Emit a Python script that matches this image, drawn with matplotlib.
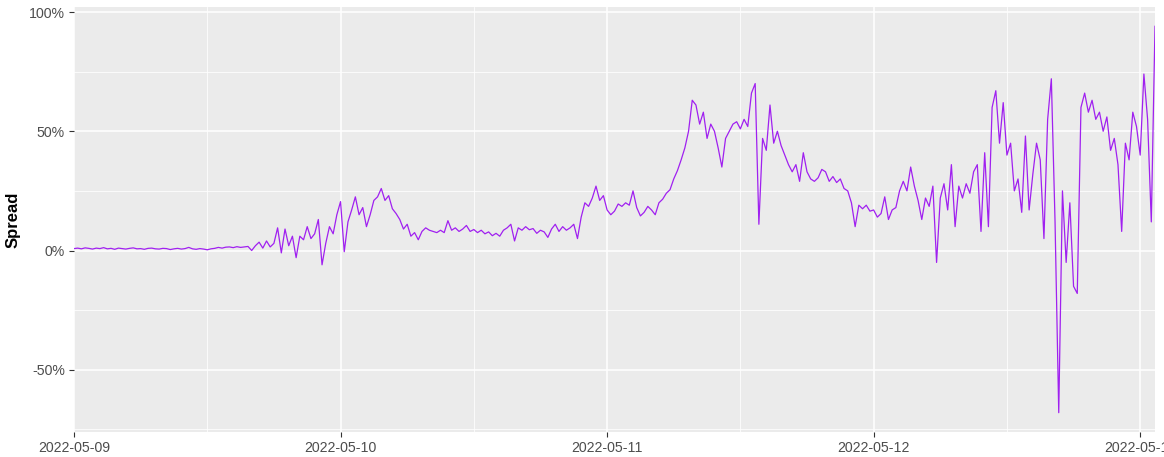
import numpy as np
import pandas as pd
import matplotlib
matplotlib.use('Agg')
import matplotlib.pyplot as plt
import matplotlib.dates as mdates
from matplotlib.ticker import FixedLocator, FuncFormatter

# spread (in %) sampled every 20 minutes from 2022-05-09 00:00
day1 = [0.8, 1.0, 0.7, 1.1, 0.9, 0.6, 1.0, 0.8, 1.2, 0.7, 0.9, 0.5, 1.0, 0.8, 0.6, 0.9,
        1.1, 0.7, 0.8, 0.5, 0.9, 1.0, 0.7, 0.6, 0.9, 0.8, 0.4, 0.7, 0.9, 0.6, 0.8, 1.3,
        0.7, 0.5, 0.8, 0.6, 0.3, 0.7, 0.9, 1.3, 1.0, 1.4, 1.5, 1.2, 1.6, 1.3, 1.5, 1.7,
        0.0, 2.0, 3.5, 1.0, 4.0, 1.5, 3.0, 9.5, -1.0, 9.0, 2.0, 6.0, -3.0, 6.0, 4.5, 10.0,
        5.0, 7.0, 13.0, -6.0, 3.0, 10.0, 7.0, 15.0]
day2 = [20.5, -0.5, 12.0, 17.0, 22.5, 15.0, 18.0, 10.0, 15.0, 21.0, 22.5, 26.0, 21.0, 23.0,
        17.5, 15.5, 13.0, 9.0, 11.0, 6.0, 7.5, 4.5, 8.0, 9.5, 8.5, 8.0, 7.5, 8.5, 7.5, 12.5,
        8.5, 9.5, 8.0, 9.0, 10.5, 8.0, 8.8, 7.5, 8.5, 7.0, 7.8, 6.2, 7.2, 6.0, 8.5, 9.5,
        11.0, 4.0, 9.5, 8.5, 10.0, 8.7, 9.2, 7.2, 8.5, 7.8, 5.5, 9.0, 11.0, 8.0, 10.0, 8.5,
        9.5, 11.0, 5.0, 14.0, 20.0, 18.5, 22.0, 27.0, 21.0, 23.0]
day3 = [17.0, 15.0, 16.5, 19.5, 18.5, 20.0, 19.0, 25.0, 18.0, 14.5, 16.0, 18.5, 17.0, 15.0,
        20.0, 21.5, 24.0, 25.5, 30.0, 33.5, 38.0, 43.0, 50.0, 63.0, 61.0, 53.0, 58.0, 47.0,
        53.0, 50.0, 43.0, 35.0, 47.0, 50.0, 53.0, 54.0, 51.0, 55.0, 52.0, 66.0, 70.0, 11.0,
        47.0, 42.0, 61.0, 45.0, 50.0, 44.0, 40.0, 36.0, 33.0, 36.0, 29.0, 41.0, 33.0, 30.0,
        29.0, 30.5, 34.0, 33.0, 29.0, 31.0, 28.5, 30.0, 26.0, 25.0, 20.0, 10.0, 19.0, 17.5,
        19.0, 16.5]
day4 = [17.0, 14.0, 15.5, 22.5, 13.0, 17.0, 18.0, 25.0, 29.0, 25.0, 35.0, 27.0, 21.0, 13.0,
        22.0, 18.5, 27.0, -5.0, 22.0, 28.0, 17.0, 36.0, 10.0, 27.0, 22.0, 28.0, 24.0, 33.0,
        36.0, 8.0, 41.0, 10.0, 60.0, 67.0, 45.0, 62.0, 40.0, 45.0, 25.0, 30.0, 16.0, 48.0,
        17.0, 32.0, 45.0, 38.0, 5.0, 55.0, 72.0, 12.0, -68.0, 25.0, -5.0, 20.0, -15.0, -18.0,
        60.0, 66.0, 58.0, 63.0, 55.0, 58.0, 50.0, 56.0, 42.0, 47.0, 36.0, 8.0, 45.0, 38.0,
        58.0, 52.0]
day5 = [40.0, 74.0, 55.0, 12.0, 94.0]

spread = np.array(day1 + day2 + day3 + day4 + day5) / 100
times = pd.date_range('2022-05-09 00:00', periods=len(spread), freq='20min')

fig = plt.figure(figsize=(11.64, 4.57), dpi=100)
ax = fig.add_axes([74 / 1164, 25 / 457, (1155 - 74) / 1164, (432 - 7) / 457])
ax.set_facecolor('#EBEBEB')

ax.plot(times, spread, color='#A020F0', lw=0.9, zorder=3)

# ggplot-like scales: no x expansion, 5% y expansion
ax.set_xlim(times[0], times[-1])
lo, hi = spread.min(), spread.max()
pad = (hi - lo) * 0.05
ax.set_ylim(lo - pad, hi + pad)

days = pd.date_range('2022-05-09', '2022-05-13', freq='D')
halfdays = pd.date_range('2022-05-09 12:00', '2022-05-12 12:00', freq='D')
ax.xaxis.set_major_locator(FixedLocator(mdates.date2num(days)))
ax.xaxis.set_minor_locator(FixedLocator(mdates.date2num(halfdays)))
ax.xaxis.set_major_formatter(mdates.DateFormatter('%Y-%m-%d'))
ax.yaxis.set_major_locator(FixedLocator([-0.5, 0, 0.5, 1.0]))
ax.yaxis.set_minor_locator(FixedLocator([-0.75, -0.25, 0.25, 0.75]))
ax.yaxis.set_major_formatter(FuncFormatter(lambda v, p: f'{v * 100:.0f}%'))

ax.grid(which='major', color='white', lw=1.1, zorder=1)
ax.grid(which='minor', color='white', lw=0.55, zorder=1)
for s in ax.spines.values():
    s.set_visible(False)

ax.tick_params(which='major', length=3.5, width=0.8, color='#333333',
               labelsize=10.2, labelcolor='#4D4D4D', pad=3)
ax.tick_params(which='minor', length=0)
for lab in ax.get_xticklabels() + ax.get_yticklabels():
    lab.set_fontfamily('Liberation Sans')

ax.set_ylabel('Spread', fontsize=12, fontweight='bold', fontfamily='Liberation Sans',
              labelpad=6)

fig.savefig('out.png', dpi=100)
